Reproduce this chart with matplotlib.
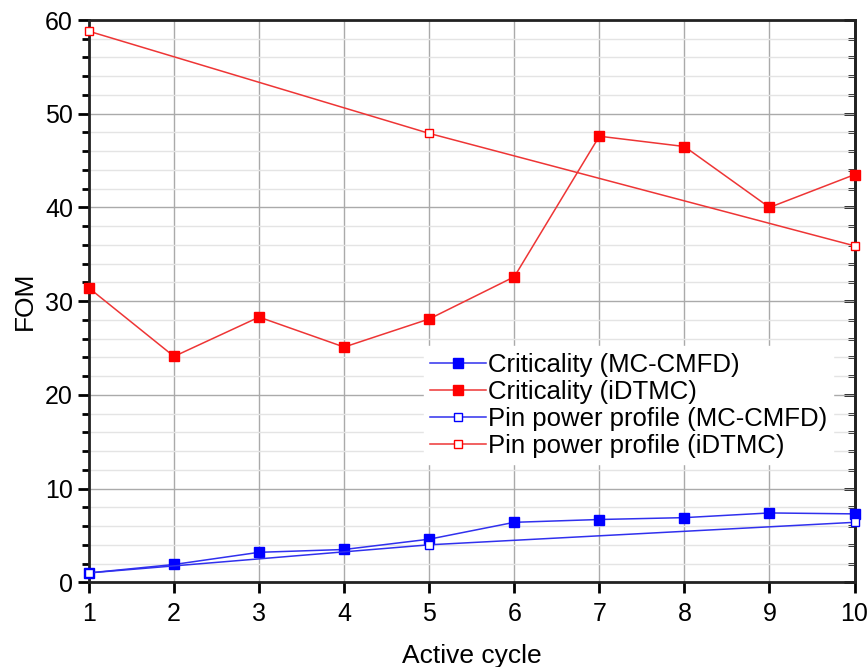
import matplotlib.pyplot as plt
from matplotlib.ticker import MultipleLocator

plt.rcParams['font.family'] = ['Liberation Sans', 'DejaVu Sans']

cycles = [1, 2, 3, 4, 5, 6, 7, 8, 9, 10]
crit_mccmfd = [1.0, 1.9, 3.2, 3.5, 4.6, 6.4, 6.7, 6.9, 7.4, 7.3]
crit_idtmc = [31.4, 24.1, 28.3, 25.1, 28.1, 32.6, 47.6, 46.5, 40.0, 43.5]
pin_cycles = [1, 5, 10]
pin_mccmfd = [1.0, 4.0, 6.4]
pin_idtmc = [58.8, 47.9, 35.9]

blue = '#3030ee'
red = '#ee3535'

fig = plt.figure(figsize=(8.68, 6.67), dpi=100)
ax = fig.add_axes([0.1025, 0.127, 0.882, 0.843])

ax.plot(cycles, crit_mccmfd, '-s', color=blue, lw=1.1, ms=7, mfc='#0000ff', mec='#0000ff',
        label='Criticality (MC-CMFD)', clip_on=False, zorder=4)
ax.plot(cycles, crit_idtmc, '-s', color=red, lw=1.1, ms=7, mfc='#ff0000', mec='#ff0000',
        label='Criticality (iDTMC)', clip_on=False, zorder=4)
ax.plot(pin_cycles, pin_mccmfd, '-s', color=blue, lw=1.1, ms=6, mfc='white', mec='#0000ff',
        label='Pin power profile (MC-CMFD)', clip_on=False, zorder=4)
ax.plot(pin_cycles, pin_idtmc, '-s', color=red, lw=1.1, ms=6, mfc='white', mec='#ff0000',
        label='Pin power profile (iDTMC)', clip_on=False, zorder=4)

ax.set_xlim(1, 10)
ax.set_ylim(0, 60)
ax.xaxis.set_major_locator(MultipleLocator(1))
ax.yaxis.set_major_locator(MultipleLocator(10))
ax.yaxis.set_minor_locator(MultipleLocator(2))

ax.grid(True, which='major', color='#aaaaaa', lw=1)
ax.grid(True, which='minor', axis='y', color='#e4e4e4', lw=1)
ax.set_axisbelow(True)

for s in ax.spines.values():
    s.set_linewidth(2)
    s.set_color('#222222')

ax.tick_params(axis='both', which='major', labelsize=18, width=2, length=8, direction='out')
ax.tick_params(axis='y', which='minor', width=2, length=5, direction='out')
ax.tick_params(axis='x', which='major', pad=6)

# right-hand ticks point inward, no labels
right = ax.secondary_yaxis('right')
right.yaxis.set_major_locator(MultipleLocator(10))
right.yaxis.set_minor_locator(MultipleLocator(2))
right.tick_params(which='major', direction='in', length=8, width=2, labelright=False)
right.tick_params(which='minor', direction='in', length=5, width=2)
right.spines['right'].set_linewidth(2)
right.spines['right'].set_color('#222222')

ax.set_xlabel('Active cycle', fontsize=19, labelpad=13)
ax.set_ylabel('FOM', fontsize=19, labelpad=6)

leg = ax.legend(loc='upper left', bbox_to_anchor=(0.437, 0.42), fontsize=18.5,
                handlelength=2.2, handletextpad=0.05, labelspacing=0.12,
                borderaxespad=0, borderpad=0.25, fancybox=False, framealpha=1,
                edgecolor='white')
leg.set_zorder(3)

fig.savefig('out.png', dpi=100)
